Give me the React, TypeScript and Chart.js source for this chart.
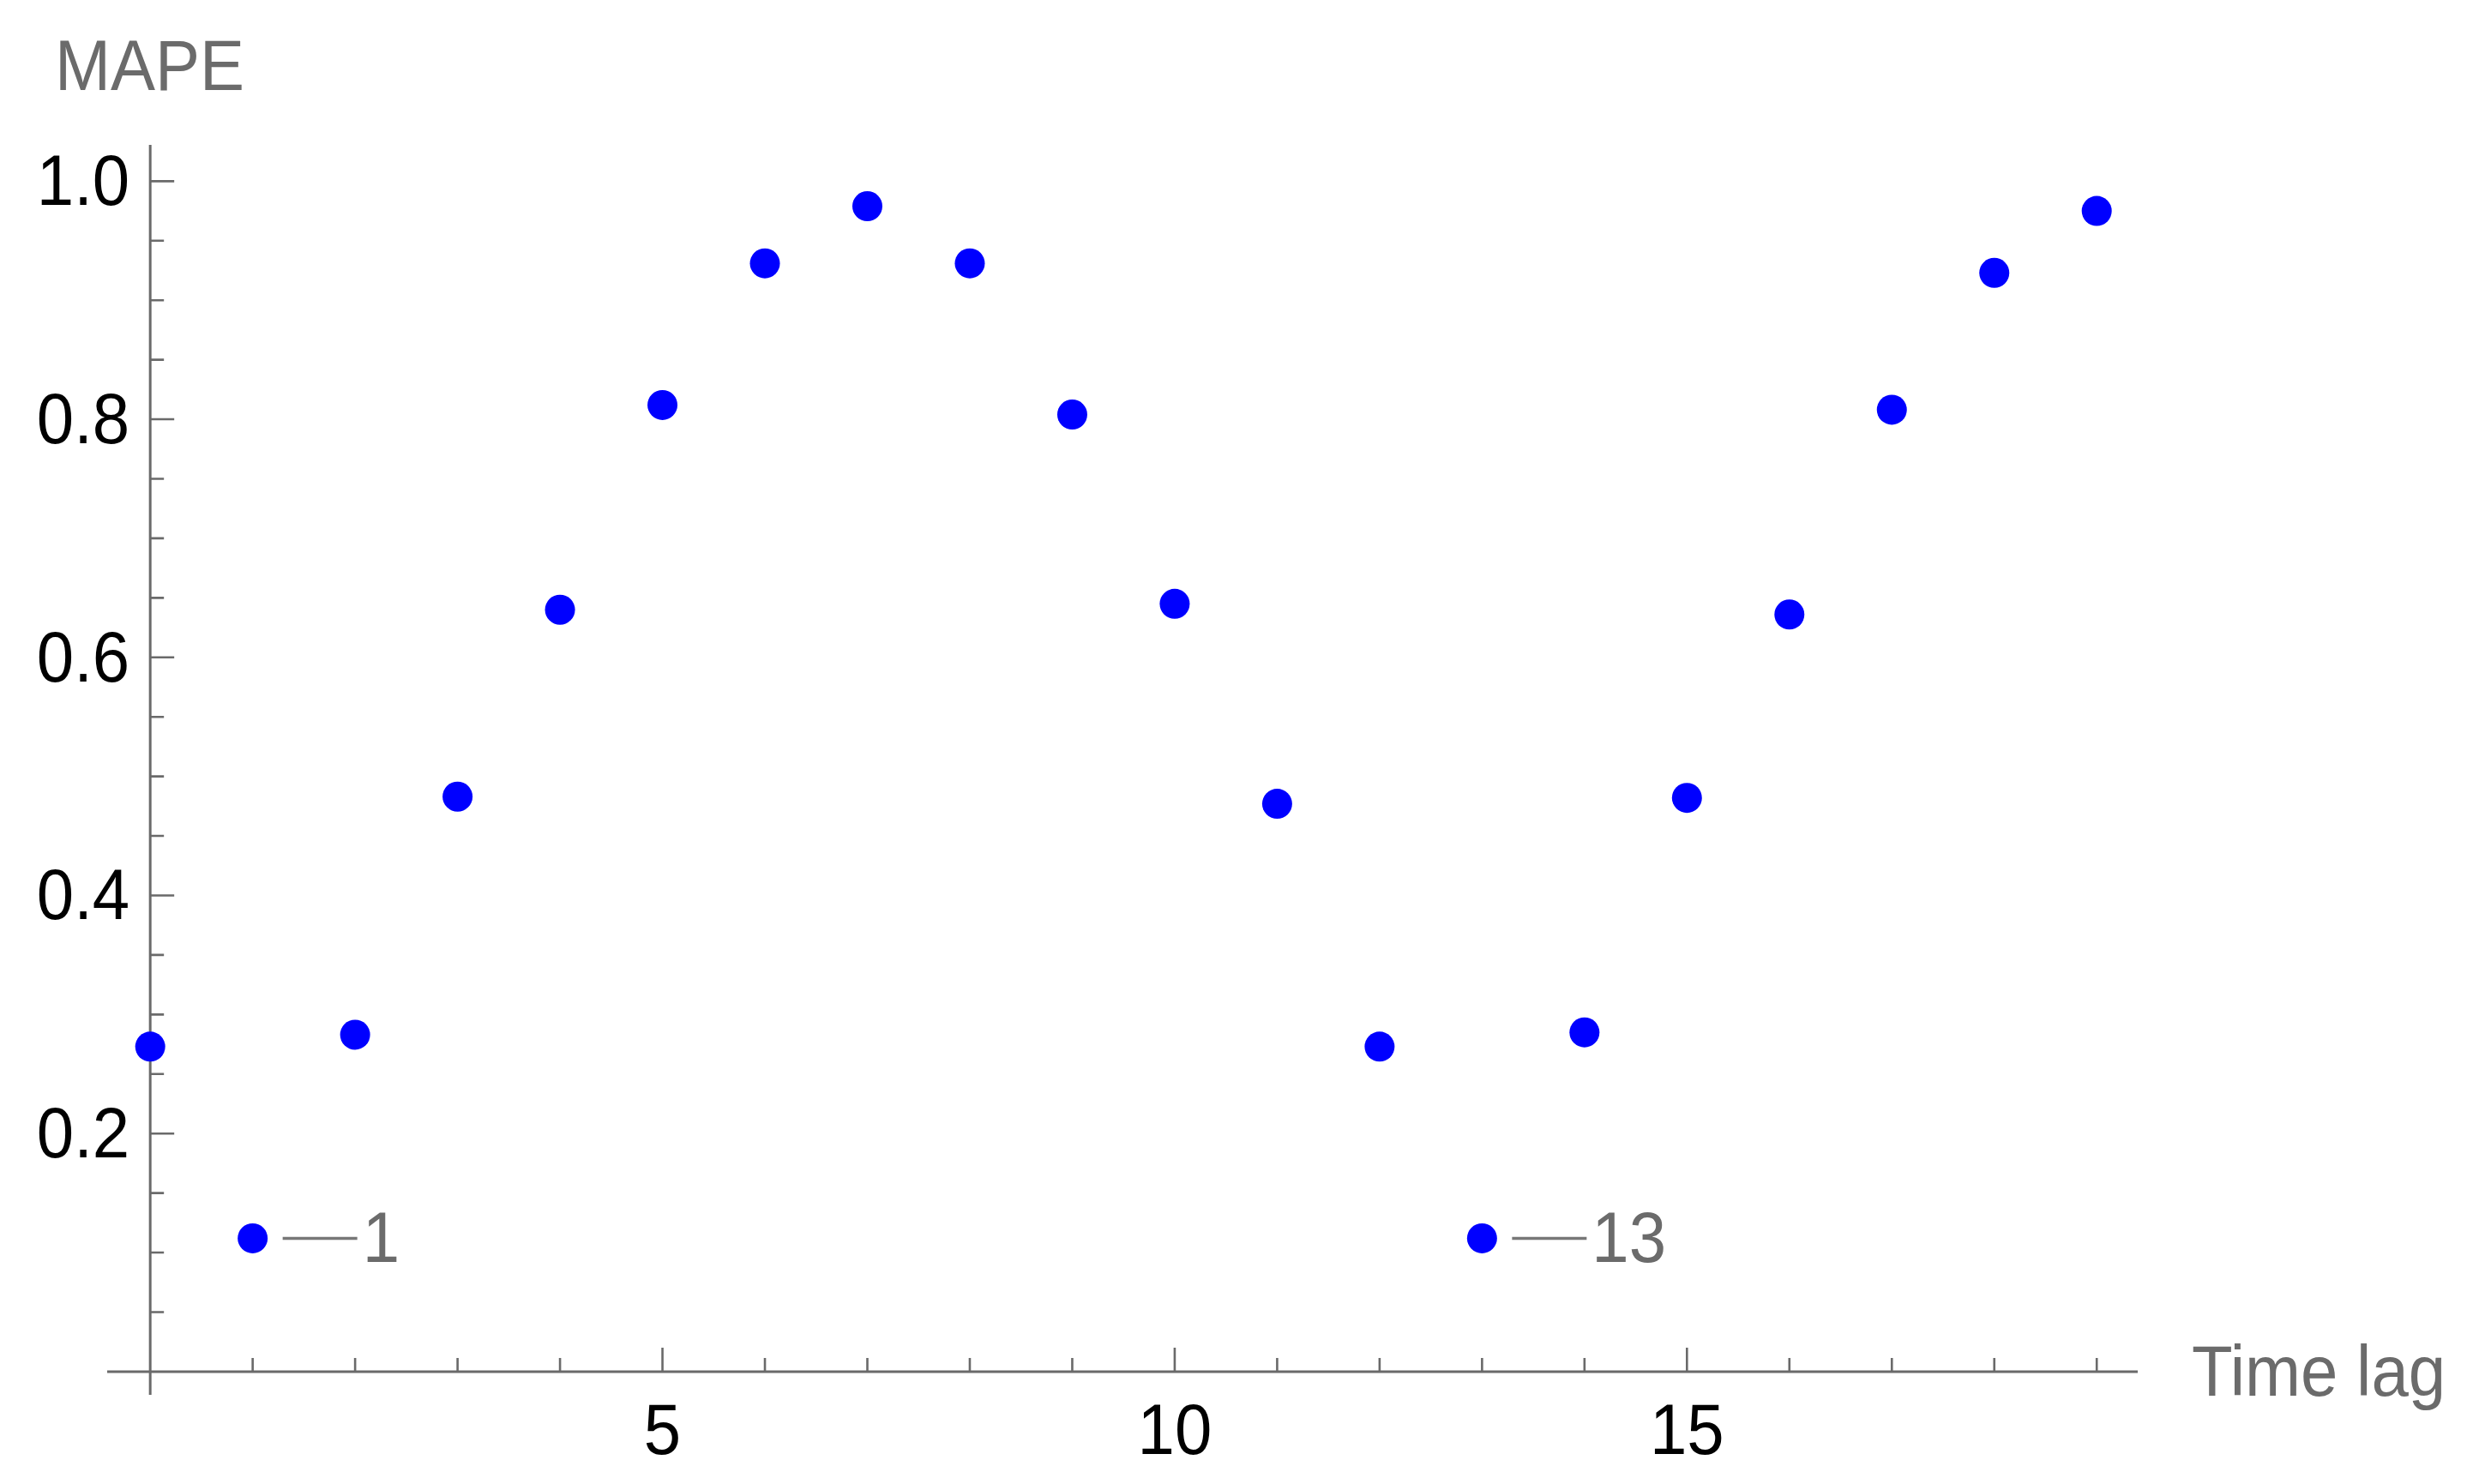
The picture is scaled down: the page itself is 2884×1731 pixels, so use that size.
import React, { useEffect, useRef } from 'react';
import { Chart, registerables } from 'chart.js';

Chart.register(...registerables);

// ---- data ----
const lags = [0, 1, 2, 3, 4, 5, 6, 7, 8, 9, 10, 11, 12, 13, 14, 15, 16, 17, 18, 19];
const mape = [0.273, 0.112, 0.283, 0.483, 0.640, 0.812, 0.931, 0.979, 0.931, 0.804, 0.645, 0.477, 0.273, 0.112, 0.285, 0.482, 0.636, 0.808, 0.923, 0.975];
const calloutLags = [1, 13];
const calloutLabels = ['1', '13'];

// ---- ticks ----
const xMajorTicks = [5, 10, 15];
const xTickLabels = ['5', '10', '15'];
const xMinorTicks = [1, 2, 3, 4, 6, 7, 8, 9, 11, 12, 13, 14, 16, 17, 18, 19];
const yMajorTicks = [0.2, 0.4, 0.6, 0.8, 1.0];
const yTickLabels = ['0.2', '0.4', '0.6', '0.8', '1.0'];
const yMinorTicks = [0.05, 0.1, 0.15, 0.25, 0.3, 0.35, 0.45, 0.5, 0.55, 0.65, 0.7, 0.75, 0.85, 0.9, 0.95];
const xTitle = 'Time lag';
const yTitle = 'MAPE';

const AXIS_COLOR = '#6a6a6a';
const TITLE_COLOR = '#6b6b6b';
const FONT = '78px "Liberation Sans", Arial, sans-serif';
const STRETCH = 1.075;

function drawText(ctx: CanvasRenderingContext2D, text: string, x: number, baseline: number, align: CanvasTextAlign) {
  ctx.save();
  ctx.translate(x, baseline);
  ctx.scale(1, STRETCH);
  ctx.textAlign = align;
  ctx.textBaseline = 'alphabetic';
  ctx.fillText(text, 0, 0);
  ctx.restore();
}

const axesPlugin = {
  id: 'mathematicaAxes',
  beforeDatasetsDraw(chart: any) {
    const ctx = chart.ctx as CanvasRenderingContext2D;
    const xs = chart.scales.x;
    const ys = chart.scales.y;
    const area = chart.chartArea;
    const x0 = xs.getPixelForValue(0);
    const y0 = ys.getPixelForValue(0);
    ctx.save();
    ctx.strokeStyle = AXIS_COLOR;
    ctx.lineWidth = 3;
    ctx.beginPath();
    ctx.moveTo(area.left, y0);
    ctx.lineTo(area.right, y0);
    ctx.moveTo(x0, area.top);
    ctx.lineTo(x0, area.bottom);
    ctx.stroke();
    ctx.lineWidth = 2.6;
    ctx.beginPath();
    xMajorTicks.forEach((v) => {
      const p = xs.getPixelForValue(v);
      ctx.moveTo(p, y0);
      ctx.lineTo(p, y0 - 28);
    });
    xMinorTicks.forEach((v) => {
      const p = xs.getPixelForValue(v);
      ctx.moveTo(p, y0);
      ctx.lineTo(p, y0 - 16);
    });
    yMajorTicks.forEach((v) => {
      const p = ys.getPixelForValue(v);
      ctx.moveTo(x0, p);
      ctx.lineTo(x0 + 28, p);
    });
    yMinorTicks.forEach((v) => {
      const p = ys.getPixelForValue(v);
      ctx.moveTo(x0, p);
      ctx.lineTo(x0 + 16, p);
    });
    ctx.stroke();
    ctx.fillStyle = '#000000';
    ctx.font = FONT;
    xMajorTicks.forEach((v, i) => {
      drawText(ctx, xTickLabels[i], xs.getPixelForValue(v), y0 + 96, 'center');
    });
    yMajorTicks.forEach((v, i) => {
      drawText(ctx, yTickLabels[i], x0 - 24, ys.getPixelForValue(v) + 28, 'right');
    });
    ctx.fillStyle = TITLE_COLOR;
    drawText(ctx, xTitle, area.right + 63, y0 + 28, 'left');
    drawText(ctx, yTitle, 64, 105, 'left');
    ctx.restore();
  },
  afterDatasetsDraw(chart: any) {
    const ctx = chart.ctx as CanvasRenderingContext2D;
    const xs = chart.scales.x;
    const ys = chart.scales.y;
    ctx.save();
    ctx.strokeStyle = '#777777';
    ctx.fillStyle = TITLE_COLOR;
    ctx.lineWidth = 3.5;
    ctx.font = FONT;
    calloutLags.forEach((lag, i) => {
      const px = xs.getPixelForValue(lag);
      const py = ys.getPixelForValue(mape[lags.indexOf(lag)]);
      ctx.beginPath();
      ctx.moveTo(px + 35, py);
      ctx.lineTo(px + 122, py);
      ctx.stroke();
      drawText(ctx, calloutLabels[i], px + 128, py + 28, 'left');
    });
    ctx.restore();
  },
};

export default function App() {
  const canvasRef = useRef<HTMLCanvasElement | null>(null);

  useEffect(() => {
    if (!canvasRef.current) return;
    const chart = new Chart(canvasRef.current, {
      type: 'scatter',
      data: {
        datasets: [
          {
            data: lags.map((x, i) => ({ x, y: mape[i] })),
            backgroundColor: '#0000ff',
            borderColor: '#0000ff',
            borderWidth: 0,
            pointRadius: 17.5,
            pointHoverRadius: 17.5,
            clip: false as any,
          },
        ],
      },
      options: {
        animation: false,
        responsive: true,
        maintainAspectRatio: false,
        devicePixelRatio: 1,
        layout: { padding: { left: 125, right: 391, top: 169, bottom: 104 } },
        plugins: { legend: { display: false }, tooltip: { enabled: false } },
        events: [],
        scales: {
          x: { type: 'linear', min: -0.42, max: 19.4, display: false },
          y: { type: 'linear', min: -0.0195, max: 1.0305, display: false },
        },
      },
      plugins: [axesPlugin],
    });
    return () => chart.destroy();
  }, []);

  return (
    <div style={{ position: 'fixed', left: 0, top: 0, width: '2884px', height: '1731px', background: '#ffffff' }}>
      <canvas ref={canvasRef} />
    </div>
  );
}
